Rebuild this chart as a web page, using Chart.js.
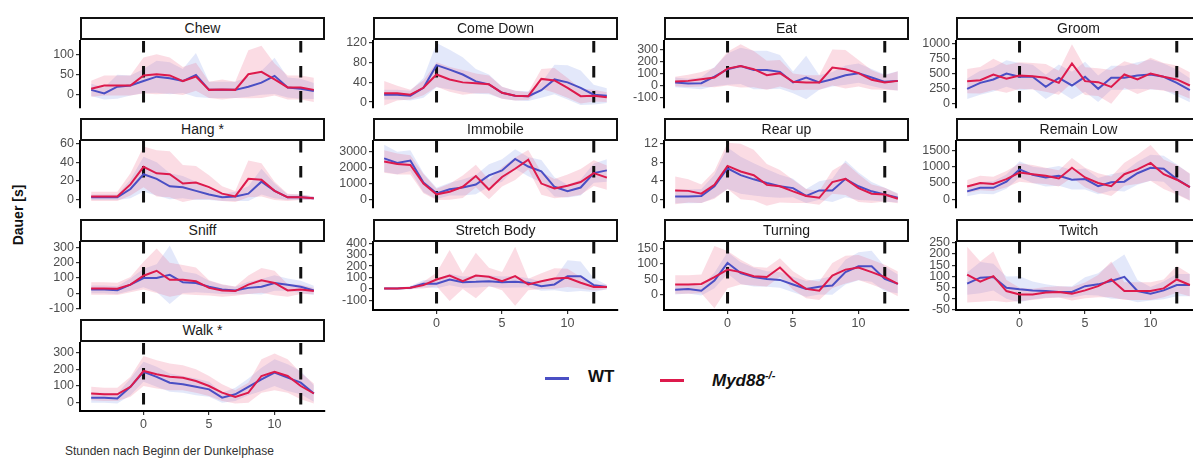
<!DOCTYPE html>
<html>
<head>
<meta charset="utf-8">
<script src="https://cdn.jsdelivr.net/npm/chart.js@4.4.1/dist/chart.umd.min.js"></script>
<style>
  body { margin: 0; width: 1193px; height: 462px; overflow: hidden; background: #fff; position: relative; font-family: "Liberation Sans", Arial, sans-serif; }
  canvas { position: absolute; }
  .strip { position: absolute; box-sizing: border-box; border: 2px solid #111; background: #fff; height: 23px; width: 245px; text-align: center; font-size: 14px; line-height: 19px; color: #1a1a1a; z-index: 2; }
  .ytitle { position: absolute; left: 18px; top: 215px; transform: translate(-50%, -50%) rotate(-90deg); font-weight: bold; font-size: 14px; white-space: nowrap; color: #111; }
  .xtitle { position: absolute; left: 65px; top: 444px; font-size: 12px; color: #333; white-space: nowrap; }
  .key { position: absolute; height: 2.5px; width: 24px; }
  .keytxt { position: absolute; font-weight: bold; font-size: 17px; color: #111; white-space: nowrap; }
  .keytxt sup { font-size: 11px; }
</style>
</head>
<body>
<div class="ytitle">Dauer [s]</div>
<div class="xtitle">Stunden nach Beginn der Dunkelphase</div>
<div class="key" style="left:545px;top:377px;background:#4a4fc4"></div>
<div class="keytxt" style="left:588px;top:367px">WT</div>
<div class="key" style="left:660px;top:379px;background:#dd1a4c"></div>
<div class="keytxt" style="left:712px;top:369px"><i>Myd88<sup>-/-</sup></i></div>
<script>
// hours after start of dark phase
var hours = [-4,-3,-2,-1,0,1,2,3,4,5,6,7,8,9,10,11,12,13];
var darkPhase = [0, 12];
var xTicks = [0, 5, 10];

// mean and sd per behaviour, WT and Myd88-/- (KO)
var chewWT = [11,2,19,22,33,44,40,33,48,11,11,11,19,29,46,17,14,8];
var chewWTsd = [15,15,30,25,30,40,40,30,55,20,20,20,25,30,45,25,25,20];
var chewKO = [14,22,22,22,47,50,47,33,44,11,12,11,50,56,37,17,17,11];
var chewKOsd = [20,25,25,25,45,50,45,35,35,20,25,20,60,65,40,30,30,30];
var chewTicks = [0, 50, 100];

var comeDownWT = [15,15,13,29,75,66,56,42,36,19,13,12,24,46,40,29,15,13];
var comeDownWTsd = [10,10,10,20,45,40,35,25,20,12,10,10,15,30,35,35,20,15];
var comeDownKO = [18,18,15,29,56,46,40,38,36,19,13,12,47,44,29,12,13,10];
var comeDownKOsd = [25,15,10,15,25,25,25,20,18,12,10,8,20,25,20,15,12,10];
var comeDownTicks = [0, 40, 80, 120];

var eatWT = [28,19,22,77,138,165,132,132,116,28,69,28,55,88,105,69,33,41];
var eatWTsd = [40,40,50,80,130,150,160,160,140,90,180,60,60,80,80,70,60,80];
var eatKO = [36,41,55,69,143,165,138,88,105,33,28,28,152,138,105,50,28,41];
var eatKOsd = [40,50,60,80,140,180,150,120,110,70,60,60,150,160,110,80,60,80];
var eatTicks = [-100, 0, 100, 200, 300];

var groomWT = [250,350,405,505,450,450,283,433,306,450,250,433,433,472,489,450,350,228];
var groomWTsd = [170,200,200,220,230,200,200,220,230,250,220,200,200,220,250,220,220,200];
var groomKO = [378,394,489,417,472,461,433,350,672,378,361,283,489,406,506,450,406,306];
var groomKOsd = [200,220,260,230,220,220,230,200,320,230,230,280,220,240,260,230,230,220];
var groomTicks = [0, 250, 500, 750, 1000];

var hangWT = [2,2,2,11,27,22,14,13,9,5,2,3,6,19,9,2,2,1];
var hangWTsd = [3,3,3,10,19,18,14,12,10,6,4,5,8,14,8,3,3,2];
var hangKO = [3,3,3,16,35,28,27,17,18,13,6,3,22,21,9,2,2,1];
var hangKOsd = [5,5,5,12,22,25,25,20,18,13,8,6,20,18,10,4,3,2];
var hangTicks = [0, 20, 40, 60];

var immobileWT = [2590,2300,2450,1080,410,670,775,960,1530,1840,2550,2080,1780,820,550,775,1670,1840];
var immobileWTsd = [850,700,650,600,350,400,500,600,700,700,600,600,700,600,400,500,600,700];
var immobileKO = [2390,2240,2180,1020,350,510,820,1490,650,1430,1940,2510,1020,710,880,1120,1670,1390];
var immobileKOsd = [700,650,600,600,350,500,700,700,600,600,700,600,700,600,700,800,800,750];
var immobileTicks = [0, 1000, 2000, 3000];

var rearUpWT = [0.6,0.6,0.7,2.8,6.7,5.2,4.3,3.5,2.8,2.4,0.7,1.9,1.9,4.4,2.8,1.7,1.0,0.3];
var rearUpWTsd = [1.5,1.5,1.5,2.5,4.5,4,3.5,3,2.5,2,1.5,2,2.5,4,3,2,1.5,1];
var rearUpKO = [1.9,1.8,1.2,3.1,7.2,6.0,5.2,3.1,2.8,1.7,0.7,0.3,3.7,4.4,2.4,1.2,1.0,0.1];
var rearUpKOsd = [3,2.5,2,3,5,6,5.5,4.5,3.5,2.5,1.5,1.5,2.5,3.5,3,2,1.5,1];
var rearUpTicks = [0, 4, 8, 12];

var remainLowWT = [238,347,347,535,911,743,663,713,594,614,396,515,535,792,960,931,614,366];
var remainLowWTsd = [150,180,200,220,250,250,280,300,300,320,250,250,300,350,400,400,450,400];
var remainLowKO = [386,495,465,614,812,762,713,634,960,663,495,396,762,911,1109,762,594,366];
var remainLowKOsd = [200,220,220,250,280,280,250,250,300,300,300,300,350,450,550,450,450,420];
var remainLowTicks = [0, 500, 1000, 1500];

var sniffWT = [26,26,21,57,100,100,121,72,68,43,26,19,36,43,68,57,43,19];
var sniffWTsd = [25,25,25,40,60,90,190,70,60,40,30,25,40,50,50,40,40,30];
var sniffKO = [32,32,30,57,115,147,89,89,79,36,19,15,57,85,68,19,26,15];
var sniffKOsd = [40,40,40,50,90,145,110,95,90,50,40,30,60,80,80,40,30,20];
var sniffTicks = [-100, 0, 100, 200, 300];

var stretchWT = [3,3,9,44,44,82,58,61,67,58,61,53,23,38,111,111,32,15];
var stretchWTsd = [5,5,15,30,40,50,50,50,50,50,50,40,40,50,140,130,60,20];
var stretchKO = [3,3,9,32,82,117,67,117,105,67,111,38,67,91,96,53,15,15];
var stretchKOsd = [5,5,10,30,60,225,70,200,80,80,260,50,70,90,80,50,30,20];
var stretchTicks = [-100, 0, 100, 200, 300, 400];

var turningWT = [16,19,13,46,103,70,57,51,48,33,19,26,30,73,92,92,51,35];
var turningWTsd = [15,15,15,25,35,35,30,25,25,25,25,25,30,40,45,50,40,30];
var turningKO = [33,33,35,57,81,73,60,57,88,46,19,13,62,81,88,73,57,35];
var turningKOsd = [30,30,30,100,60,40,30,30,30,30,30,30,40,45,40,40,40,40];
var turningTicks = [0, 50, 100, 150];

var twitchWT = [67,94,97,49,42,37,34,30,30,56,64,79,98,34,22,37,61,61];
var twitchWTsd = [50,70,60,50,58,40,30,25,25,40,50,80,100,50,30,40,50,50];
var twitchKO = [108,76,101,34,19,19,27,30,22,37,56,86,34,34,34,46,86,61];
var twitchKOsd = [125,90,110,50,30,25,25,25,30,35,50,80,40,40,40,40,60,50];
var twitchTicks = [-50, 0, 50, 100, 150, 200, 250];

var walkWT = [30,30,25,95,185,155,120,110,95,80,30,50,95,140,180,150,120,55];
var walkWTsd = [30,30,30,50,60,60,55,50,50,45,30,40,50,70,80,80,70,50];
var walkKO = [55,50,50,95,190,170,155,150,130,100,60,35,60,160,185,160,100,55];
var walkKOsd = [40,40,40,60,90,85,80,75,70,60,50,40,60,100,110,100,80,60];
var walkTicks = [0, 100, 200, 300];

var panels = [
  {title: "Chew", col: 0, row: 0, wt: chewWT, wtSd: chewWTsd, ko: chewKO, koSd: chewKOsd, ticks: chewTicks, min: -33, max: 133},
  {title: "Come Down", col: 1, row: 0, wt: comeDownWT, wtSd: comeDownWTsd, ko: comeDownKO, koSd: comeDownKOsd, ticks: comeDownTicks, min: -11, max: 124},
  {title: "Eat", col: 2, row: 0, wt: eatWT, wtSd: eatWTsd, ko: eatKO, koSd: eatKOsd, ticks: eatTicks, min: -180, max: 372},
  {title: "Groom", col: 3, row: 0, wt: groomWT, wtSd: groomWTsd, ko: groomKO, koSd: groomKOsd, ticks: groomTicks, min: -60, max: 1045},
  {title: "Hang *", col: 0, row: 1, wt: hangWT, wtSd: hangWTsd, ko: hangKO, koSd: hangKOsd, ticks: hangTicks, min: -9, max: 63},
  {title: "Immobile", col: 1, row: 1, wt: immobileWT, wtSd: immobileWTsd, ko: immobileKO, koSd: immobileKOsd, ticks: immobileTicks, min: -470, max: 3670},
  {title: "Rear up", col: 2, row: 1, wt: rearUpWT, wtSd: rearUpWTsd, ko: rearUpKO, koSd: rearUpKOsd, ticks: rearUpTicks, min: -1.8, max: 12.6},
  {title: "Remain Low", col: 3, row: 1, wt: remainLowWT, wtSd: remainLowWTsd, ko: remainLowKO, koSd: remainLowKOsd, ticks: remainLowTicks, min: -257, max: 1780},
  {title: "Sniff", col: 0, row: 2, wt: sniffWT, wtSd: sniffWTsd, ko: sniffKO, koSd: sniffKOsd, ticks: sniffTicks, min: -98, max: 334},
  {title: "Stretch Body", col: 1, row: 2, wt: stretchWT, wtSd: stretchWTsd, ko: stretchKO, koSd: stretchKOsd, ticks: stretchTicks, min: -187, max: 412, xAxis: true},
  {title: "Turning", col: 2, row: 2, wt: turningWT, wtSd: turningWTsd, ko: turningKO, koSd: turningKOsd, ticks: turningTicks, min: -49, max: 170, xAxis: true},
  {title: "Twitch", col: 3, row: 2, wt: twitchWT, wtSd: twitchWTsd, ko: twitchKO, koSd: twitchKOsd, ticks: twitchTicks, min: -51, max: 254, xAxis: true},
  {title: "Walk *", col: 0, row: 3, wt: walkWT, wtSd: walkWTsd, ko: walkKO, koSd: walkKOsd, ticks: walkTicks, min: -50, max: 358, xAxis: true}
];

// layout
var colLeft = [80, 373, 664, 956];
var rowTop = [17, 117.8, 218.6, 319.4];
var plotW = 245, plotH = 68, stripH = 23.5;
var axisW = 50, padT = 12, padB = 8, padR = 8, xAxisH = 24;

var wtColor = "#4a4fc4", koColor = "#dd1a4c";
var wtFill = "rgba(90,120,225,0.17)", koFill = "rgba(235,70,110,0.19)";
var tickFont = {family: "Liberation Sans", size: 12.5};

function points(vals) {
  return hours.map(function(h, i) { return {x: h, y: vals[i]}; });
}
function band(vals, sd, sign) {
  return hours.map(function(h, i) { return {x: h, y: vals[i] + sign * sd[i]}; });
}

function drawPanel(p) {
  var left = colLeft[p.col], top = rowTop[p.row];

  var strip = document.createElement("div");
  strip.className = "strip";
  strip.style.left = left + "px";
  strip.style.top = top + "px";
  strip.textContent = p.title;
  document.body.appendChild(strip);

  var canvas = document.createElement("canvas");
  var w = axisW + plotW + padR;
  var h = padT + plotH + (p.xAxis ? xAxisH : padB);
  canvas.width = w;
  canvas.height = h;
  canvas.style.left = (left - axisW) + "px";
  canvas.style.top = (top + stripH - padT) + "px";
  document.body.appendChild(canvas);

  var datasets = [
    {data: band(p.wt, p.wtSd, 1), fill: "+1", backgroundColor: wtFill, borderColor: "transparent", borderWidth: 0, pointRadius: 0, order: 6},
    {data: band(p.wt, p.wtSd, -1), fill: false, borderColor: "transparent", borderWidth: 0, pointRadius: 0, order: 6},
    {data: band(p.ko, p.koSd, 1), fill: "+1", backgroundColor: koFill, borderColor: "transparent", borderWidth: 0, pointRadius: 0, order: 5},
    {data: band(p.ko, p.koSd, -1), fill: false, borderColor: "transparent", borderWidth: 0, pointRadius: 0, order: 5}
  ];
  darkPhase.forEach(function(v) {
    datasets.push({data: [{x: v, y: p.max}, {x: v, y: p.min}], borderColor: "#111", borderWidth: 3, borderDash: [11.5, 13.5], pointRadius: 0, fill: false, order: 2});
  });
  datasets.push({data: points(p.wt), borderColor: wtColor, borderWidth: 2, pointRadius: 0, fill: false, order: 1});
  datasets.push({data: points(p.ko), borderColor: koColor, borderWidth: 2, pointRadius: 0, fill: false, order: 0});

  new Chart(canvas, {
    type: "line",
    data: {datasets: datasets},
    options: {
      responsive: false,
      animation: false,
      events: [],
      layout: {padding: {top: padT, right: padR, bottom: p.xAxis ? 0 : padB, left: 0}},
      plugins: {legend: {display: false}, tooltip: {enabled: false}},
      scales: {
        x: {
          type: "linear",
          min: -4.85,
          max: 13.85,
          display: !!p.xAxis,
          afterBuildTicks: function(s) { s.ticks = xTicks.map(function(v) { return {value: v}; }); },
          afterFit: function(s) { if (p.xAxis) s.height = xAxisH; },
          border: {display: true, color: "#000", width: 2},
          grid: {drawOnChartArea: false, drawTicks: true, tickLength: 4, color: "#333", lineWidth: 1.2},
          ticks: {font: tickFont, color: "#4d4d4d", padding: 2, autoSkip: false, maxRotation: 0,
                  callback: function(v) { return v; }}
        },
        y: {
          type: "linear",
          min: p.min,
          max: p.max,
          afterBuildTicks: function(s) { s.ticks = p.ticks.map(function(v) { return {value: v}; }); },
          afterFit: function(s) { s.width = axisW; },
          border: {display: true, color: "#000", width: 2},
          grid: {drawOnChartArea: false, drawTicks: true, tickLength: 4, color: "#333", lineWidth: 1.2},
          ticks: {font: tickFont, color: "#4d4d4d", padding: 2, autoSkip: false,
                  callback: function(v) { return v; }}
        }
      }
    }
  });
}

panels.forEach(drawPanel);
</script>
</body>
</html>
